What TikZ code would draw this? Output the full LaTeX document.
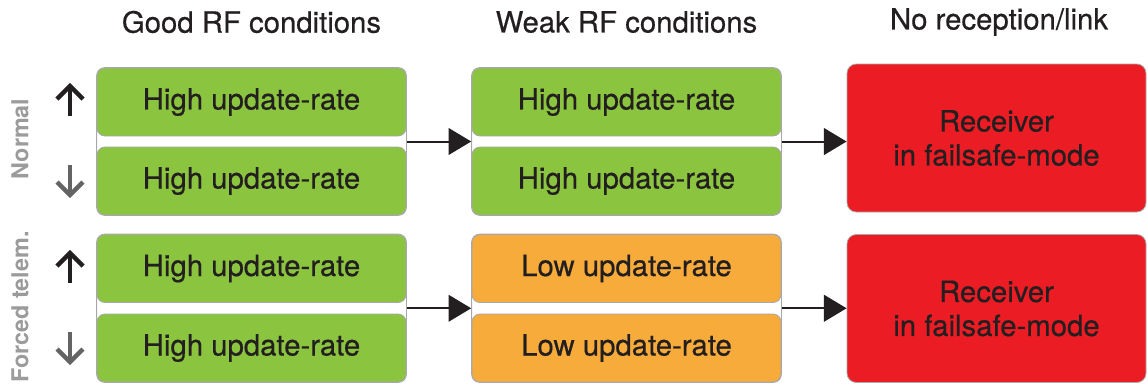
\documentclass[tikz,border=0pt]{standalone}
\usepackage{fontspec}
\setmainfont{TeX Gyre Heros}
\newfontfamily\medfont{TeX Gyre Heros}[FakeBold=0.5]
\usepackage{tikz}
\usetikzlibrary{arrows.meta,fit}
\definecolor{boxgreen}{RGB}{139,197,63}
\definecolor{boxorange}{RGB}{246,171,59}
\definecolor{boxred}{RGB}{236,28,36}
\definecolor{frameg}{RGB}{168,168,168}
\definecolor{txt}{RGB}{35,31,32}
\definecolor{sidegrey}{RGB}{155,155,155}
\definecolor{downgrey}{RGB}{100,100,100}

\tikzset{
  half/.style={draw=frameg, line width=0.6pt, rounded corners=6pt, minimum width=231.75pt, minimum height=51pt, inner sep=0pt, font=\medfont\fontsize{22}{26}\selectfont, text=txt},
  hirate/.style={half, fill=boxgreen},
  lorate/.style={half, fill=boxorange},
  groupframe/.style={draw=frameg, line width=0.6pt, rounded corners=6pt, inner sep=0pt},
  failbox/.style={draw=frameg, line width=0.6pt, fill=boxred, rounded corners=7pt, minimum width=224.25pt, minimum height=111pt, align=center, font=\medfont\fontsize{22}{25.5}\selectfont, text=txt},
  colhead/.style={font=\medfont\fontsize{22}{26}\selectfont, text=txt},
  rowlabel/.style={font=\fontsize{17.5}{20}\selectfont\bfseries, text=sidegrey, rotate=90},
  flow/.style={line width=1.5pt, draw=txt, -{Triangle[length=17pt,width=20pt]}},
  updown/.style={line width=3.2pt, line join=miter}
}

\begin{document}
\begin{tikzpicture}[x=0.75pt,y=0.75pt,yscale=-1,xscale=1]
\useasboundingbox (0,0) rectangle (1148,386);

% Text Node
\node[colhead] (hgood) at (251.5,22) {Good RF conditions};
% Text Node
\node[colhead] (hweak) at (626.5,22) {Weak RF conditions};
% Text Node
\node[colhead] (hnone) at (999,22) {No reception/link};

% Text Node
\node[rowlabel] (lnorm) at (20,139) {Normal};
% Text Node
\node[rowlabel] (lforce) at (20,307) {Forced telem.};

%Up / down arrows
\draw[updown, draw=txt] (70,116) -- (70,86) ;
\draw[updown, draw=txt] (57,99) -- (70,86) -- (83,99) ;
\draw[updown, draw=downgrey] (70,165) -- (70,195) ;
\draw[updown, draw=downgrey] (57,182) -- (70,195) -- (83,182) ;
\draw[updown, draw=txt] (70,283) -- (70,253) ;
\draw[updown, draw=txt] (57,266) -- (70,253) -- (83,266) ;
\draw[updown, draw=downgrey] (70,332) -- (70,362) ;
\draw[updown, draw=downgrey] (57,349) -- (70,362) -- (83,349) ;

%Row normal
\node[hirate] (n1up) at (251.5,102) {High update-rate};
\node[hirate] (n1dn) at (251.5,181) {High update-rate};
\node[groupframe, fit=(n1up)(n1dn)] (n1) {};
\node[hirate] (n2up) at (626.5,102) {High update-rate};
\node[hirate] (n2dn) at (626.5,181) {High update-rate};
\node[groupframe, fit=(n2up)(n2dn)] (n2) {};
\node[failbox] (n3) at (996.5,138) {Receiver\\in failsafe-mode};

%Row forced telemetry
\node[hirate] (f1up) at (251.5,268.5) {High update-rate};
\node[hirate] (f1dn) at (251.5,348) {High update-rate};
\node[groupframe, fit=(f1up)(f1dn)] (f1) {};
\node[lorate] (f2up) at (626.5,268.5) {Low update-rate};
\node[lorate] (f2dn) at (626.5,348) {Low update-rate};
\node[groupframe, fit=(f2up)(f2dn)] (f2) {};
\node[failbox] (f3) at (996.5,308.5) {Receiver\\in failsafe-mode};

%Straight Lines
\draw[flow] (n1.east) -- (n2.west) ;
\draw[flow] (n2.east) -- (n2.east -| n3.west) ;
\draw[flow] (f1.east) -- (f2.west) ;
\draw[flow] (f2.east) -- (f2.east -| f3.west) ;

\end{tikzpicture}
\end{document}
